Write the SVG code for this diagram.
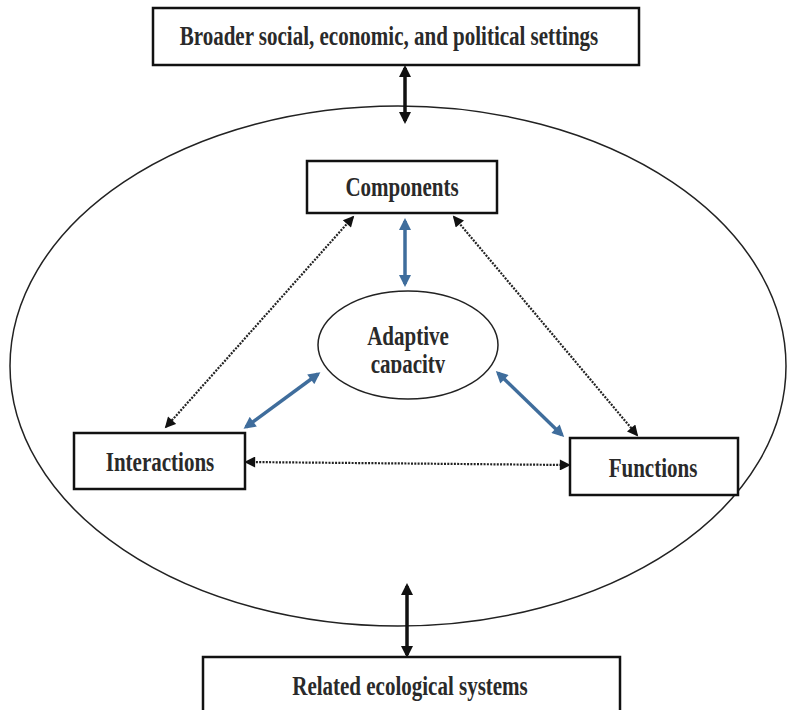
<svg xmlns="http://www.w3.org/2000/svg" width="789" height="710" viewBox="0 0 789 710">
<style>
.box{fill:#fff;stroke:#111;stroke-width:2.5}
.ell{fill:none;stroke:#222;stroke-width:1.5}
.lbl{font-family:"Liberation Serif","Times New Roman",serif;font-weight:bold;font-size:21px;fill:#2a2a2a;text-anchor:middle}
.thick{stroke:#111;stroke-width:3.5;fill:none}
.blue{stroke:#3f6d9c;stroke-width:3.5;fill:none}
.dot{stroke:#222;stroke-width:2.2;stroke-dasharray:2 1.3;fill:none}
</style>
<defs>
<marker id="ab" viewBox="0 0 12 12" refX="9" refY="6" markerWidth="12" markerHeight="12" markerUnits="userSpaceOnUse" orient="auto-start-reverse"><path d="M0,0 L12,6 L0,12 Z" fill="#111"/></marker>
<marker id="au" viewBox="0 0 12 12" refX="9" refY="6" markerWidth="13" markerHeight="12" markerUnits="userSpaceOnUse" orient="auto-start-reverse"><path d="M0,0 L12,6 L0,12 Z" fill="#3f6d9c"/></marker>
<marker id="ad" viewBox="0 0 12 12" refX="10" refY="6" markerWidth="12" markerHeight="11" markerUnits="userSpaceOnUse" orient="auto-start-reverse"><path d="M0,0 L12,6 L0,12 Z" fill="#111"/></marker>
<clipPath id="capclip"><rect x="300" y="340" width="200" height="33"/></clipPath>
</defs>
<rect width="789" height="710" fill="#fff"/>
<g id="system"><ellipse class="ell" cx="398" cy="366" rx="388" ry="260"/></g>
<g id="connectors">
<line class="thick" x1="405" y1="68" x2="405" y2="121" marker-start="url(#ab)" marker-end="url(#ab)"/>
<line class="thick" x1="407" y1="586" x2="407" y2="655" marker-start="url(#ab)" marker-end="url(#ab)"/>
<line class="blue" x1="405" y1="221" x2="405" y2="284" marker-start="url(#au)" marker-end="url(#au)"/>
<line class="blue" x1="246" y1="427" x2="318" y2="374" marker-start="url(#au)" marker-end="url(#au)"/>
<line class="blue" x1="498" y1="373" x2="562" y2="435" marker-start="url(#au)" marker-end="url(#au)"/>
<line class="dot" x1="353" y1="217" x2="166" y2="427" marker-start="url(#ad)" marker-end="url(#ad)"/>
<line class="dot" x1="454" y1="217" x2="637" y2="435" marker-start="url(#ad)" marker-end="url(#ad)"/>
<line class="dot" x1="246" y1="462" x2="569" y2="465" marker-start="url(#ad)" marker-end="url(#ad)"/>
</g>
<g id="broader">
<rect class="box" x="153" y="8" width="486" height="57"/>
<text class="lbl" transform="translate(389,45) scale(1,1.25)">Broader social, economic, and political settings</text>
</g>
<g id="components">
<rect class="box" x="307" y="161" width="190" height="52"/>
<text class="lbl" transform="translate(402,196) scale(1,1.25)">Components</text>
</g>
<g id="adaptive">
<ellipse class="ell" cx="408" cy="345" rx="90" ry="54"/>
<text class="lbl" transform="translate(408,345) scale(1,1.25)">Adaptive</text>
<g clip-path="url(#capclip)"><text class="lbl" transform="translate(408,373) scale(1,1.25)">capacity</text></g>
</g>
<g id="interactions">
<rect class="box" x="74" y="433" width="171" height="56"/>
<text class="lbl" transform="translate(160,471) scale(1,1.25)">Interactions</text>
</g>
<g id="functions">
<rect class="box" x="570" y="438" width="168" height="57"/>
<text class="lbl" transform="translate(653,477) scale(1,1.25)">Functions</text>
</g>
<g id="related">
<rect class="box" x="203" y="657" width="417" height="60"/>
<text class="lbl" transform="translate(410,695) scale(1,1.25)">Related ecological systems</text>
</g>
</svg>
